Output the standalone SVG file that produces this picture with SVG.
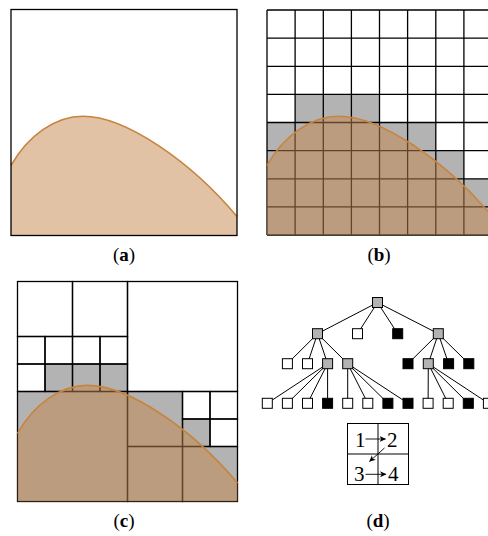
<svg xmlns="http://www.w3.org/2000/svg" xmlns:xlink="http://www.w3.org/1999/xlink" width="488" height="536" viewBox="0 0 488 536">
<style>
.grid{fill:none;stroke:#000;stroke-width:1.3}
.gray{fill:#b3b3b3}
.area{fill:#c3864a;fill-opacity:0.5}
.curve{fill:none;stroke:#c8843f;stroke-width:1.6}
.w{fill:#fff;stroke:#000;stroke-width:1}
.g{fill:#b3b3b3;stroke:#000;stroke-width:1}
.k{fill:#000;stroke:#000;stroke-width:1}
.edge{fill:none;stroke:#000;stroke-width:1}
.lbl{font-family:"Liberation Serif","DejaVu Serif",serif;font-size:19px;text-anchor:middle;fill:#000}
.num{font-family:"Liberation Serif","DejaVu Serif",serif;font-size:21px;text-anchor:middle;fill:#000}
.arr{fill:none;stroke:#000;stroke-width:0.9;marker-end:url(#ah)}
</style>
<defs>
<path id="areaP" d="M0,156 C17,126 44,106.7 72,106.7 C114,106.7 179,151 226,207 L226,226 L0,226 Z"/>
<path id="crvP" vector-effect="non-scaling-stroke" d="M0,156 C17,126 44,106.7 72,106.7 C114,106.7 179,151 226,207"/>
<marker id="ah" markerUnits="userSpaceOnUse" markerWidth="8" markerHeight="8" refX="6" refY="3" orient="auto">
<path d="M0,0 L6.5,3 L0,6 L1.8,3 Z" fill="#000"/>
</marker>
</defs>

<g id="panel-a">
<rect x="11" y="9.5" width="226" height="226" fill="#fff"/>
<use xlink:href="#areaP" class="area" transform="translate(11,9.5)"/>
<use xlink:href="#crvP" class="curve" transform="translate(11,9.5)"/>
<rect x="11" y="9.5" width="226" height="226" class="grid"/>
</g>

<g id="panel-b">
<rect x="267" y="10" width="225" height="225" fill="#fff"/>
<rect class="gray" x="295.1" y="94.4" width="84.4" height="28.1"/>
<rect class="gray" x="267" y="122.5" width="168.8" height="28.1"/>
<rect class="gray" x="267" y="150.6" width="196.9" height="28.2"/>
<rect class="gray" x="267" y="178.8" width="225" height="56.2"/>
<path class="grid" d="M267,10V235M295.1,10V235M323.3,10V235M351.4,10V235M379.5,10V235M407.6,10V235M435.8,10V235M463.9,10V235M492,10V235M267,10H492M267,38.1H492M267,66.3H492M267,94.4H492M267,122.5H492M267,150.6H492M267,178.8H492M267,206.9H492M267,235H492"/>
<use xlink:href="#areaP" class="area" transform="translate(267,10) scale(0.9956)"/>
<use xlink:href="#crvP" class="curve" transform="translate(267,10) scale(0.9956)"/>
</g>

<g id="panel-c">
<rect x="17.5" y="281.5" width="220" height="220" fill="#fff"/>
<rect class="gray" x="45" y="364" width="27.5" height="27.5"/>
<rect class="gray" x="72.5" y="364" width="55" height="27.5"/>
<rect class="gray" x="17.5" y="391.5" width="110" height="110"/>
<rect class="gray" x="127.5" y="391.5" width="55" height="55"/>
<rect class="gray" x="182.5" y="419" width="27.5" height="27.5"/>
<rect class="gray" x="127.5" y="446.5" width="110" height="55"/>
<g class="grid">
<rect x="17.5" y="281.5" width="55" height="55"/>
<rect x="72.5" y="281.5" width="55" height="55"/>
<rect x="17.5" y="336.5" width="27.5" height="27.5"/>
<rect x="45" y="336.5" width="27.5" height="27.5"/>
<rect x="17.5" y="364" width="27.5" height="27.5"/>
<rect x="45" y="364" width="27.5" height="27.5"/>
<rect x="72.5" y="336.5" width="27.5" height="27.5"/>
<rect x="100" y="336.5" width="27.5" height="27.5"/>
<rect x="72.5" y="364" width="27.5" height="27.5"/>
<rect x="100" y="364" width="27.5" height="27.5"/>
<rect x="127.5" y="281.5" width="110" height="110"/>
<rect x="17.5" y="391.5" width="110" height="110"/>
<rect x="127.5" y="391.5" width="55" height="55"/>
<rect x="182.5" y="391.5" width="27.5" height="27.5"/>
<rect x="210" y="391.5" width="27.5" height="27.5"/>
<rect x="182.5" y="419" width="27.5" height="27.5"/>
<rect x="210" y="419" width="27.5" height="27.5"/>
<rect x="127.5" y="446.5" width="55" height="55"/>
<rect x="182.5" y="446.5" width="55" height="55"/>
</g>
<use xlink:href="#areaP" class="area" transform="translate(17.5,281.5) scale(0.9735)"/>
<use xlink:href="#crvP" class="curve" transform="translate(17.5,281.5) scale(0.9735)"/>
</g>

<g id="tree-edges">
<path class="edge" d="M377.5,302.5L317.5,333.7M377.5,302.5L357.5,333.7M377.5,302.5L397.7,333.7M377.5,302.5L438.3,333.7
M317.5,333.7L287.4,363.7M317.5,333.7L307.5,363.7M317.5,333.7L327.6,363.7M317.5,333.7L347.7,363.7
M438.3,333.7L408,363.7M438.3,333.7L428.3,363.7M438.3,333.7L448.6,363.7M438.3,333.7L468.8,363.7
M327.6,363.7L267.3,403.3M327.6,363.7L287.4,403.3M327.6,363.7L307.5,403.3M327.6,363.7L327.6,403.3
M347.7,363.7L347.7,403.3M347.7,363.7L367.8,403.3M347.7,363.7L387.9,403.3M347.7,363.7L408,403.3
M428.3,363.7L428.1,403.3M428.3,363.7L448.2,403.3M428.3,363.7L468.3,403.3M428.3,363.7L488.4,403.3"/>
</g>

<g id="tree-nodes">
<g id="n-root"><rect class="g" x="372.5" y="297.5" width="10" height="10"/></g>
<g id="n-1"><rect class="g" x="312.5" y="328.7" width="10" height="10"/></g>
<g id="n-2"><rect class="w" x="352.5" y="328.7" width="10" height="10"/></g>
<g id="n-3"><rect class="k" x="392.7" y="328.7" width="10" height="10"/></g>
<g id="n-4"><rect class="g" x="433.3" y="328.7" width="10" height="10"/></g>
<g id="n-11"><rect class="w" x="282.4" y="358.7" width="10" height="10"/></g>
<g id="n-12"><rect class="w" x="302.5" y="358.7" width="10" height="10"/></g>
<g id="n-13"><rect class="g" x="322.6" y="358.7" width="10" height="10"/></g>
<g id="n-14"><rect class="g" x="342.7" y="358.7" width="10" height="10"/></g>
<g id="n-41"><rect class="k" x="403" y="358.7" width="10" height="10"/></g>
<g id="n-42"><rect class="g" x="423.3" y="358.7" width="10" height="10"/></g>
<g id="n-43"><rect class="k" x="443.6" y="358.7" width="10" height="10"/></g>
<g id="n-44"><rect class="k" x="463.8" y="358.7" width="10" height="10"/></g>
<g id="n-131"><rect class="w" x="262.3" y="398.3" width="10" height="10"/></g>
<g id="n-132"><rect class="w" x="282.4" y="398.3" width="10" height="10"/></g>
<g id="n-133"><rect class="w" x="302.5" y="398.3" width="10" height="10"/></g>
<g id="n-134"><rect class="k" x="322.6" y="398.3" width="10" height="10"/></g>
<g id="n-141"><rect class="w" x="342.7" y="398.3" width="10" height="10"/></g>
<g id="n-142"><rect class="w" x="362.8" y="398.3" width="10" height="10"/></g>
<g id="n-143"><rect class="k" x="382.9" y="398.3" width="10" height="10"/></g>
<g id="n-144"><rect class="k" x="403" y="398.3" width="10" height="10"/></g>
<g id="n-421"><rect class="w" x="423.1" y="398.3" width="10" height="10"/></g>
<g id="n-422"><rect class="w" x="443.2" y="398.3" width="10" height="10"/></g>
<g id="n-423"><rect class="k" x="463.3" y="398.3" width="10" height="10"/></g>
<g id="n-424"><rect class="w" x="483.4" y="398.3" width="10" height="10"/></g>
</g>

<g id="legend">
<rect x="347.5" y="423.5" width="61" height="61" fill="#fff" stroke="#000" stroke-width="1"/>
<path d="M378,423.5V484.5M347.5,454H408.5" stroke="#000" stroke-width="1" fill="none"/>
<text class="num" x="360.3" y="447.3">1</text>
<text class="num" x="392.2" y="447.3">2</text>
<text class="num" x="359.2" y="481">3</text>
<text class="num" x="393.3" y="481">4</text>
<line class="arr" x1="365.5" y1="439" x2="385.5" y2="439"/>
<line class="arr" x1="384.5" y1="448" x2="369.5" y2="461.5"/>
<line class="arr" x1="365.5" y1="474.3" x2="386" y2="474.3"/>
</g>

<g id="labels">
<text class="lbl" x="124" y="261">(<tspan font-weight="bold">a</tspan>)</text>
<text class="lbl" x="379" y="261">(<tspan font-weight="bold">b</tspan>)</text>
<text class="lbl" x="124" y="527">(<tspan font-weight="bold">c</tspan>)</text>
<text class="lbl" x="378" y="527">(<tspan font-weight="bold">d</tspan>)</text>
</g>
</svg>
